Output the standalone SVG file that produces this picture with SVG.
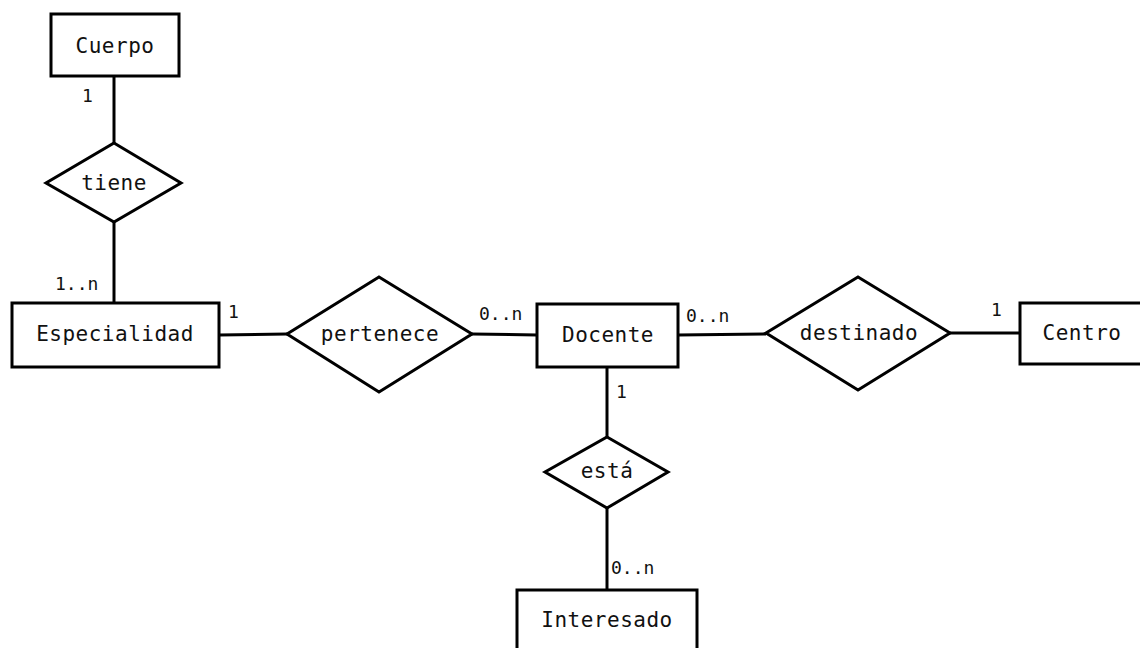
<svg xmlns="http://www.w3.org/2000/svg" width="1140" height="648" viewBox="0 0 1140 648">
<style>
.shape{fill:#fff;stroke:#000;stroke-width:3}
.edge{fill:none;stroke:#000;stroke-width:3}
.t{font-family:"DejaVu Sans Mono",monospace;font-size:21px;letter-spacing:0.5px;text-anchor:middle;fill:#111}
.c{font-family:"DejaVu Sans Mono",monospace;font-size:18px;fill:#111}
</style>
<rect width="1140" height="648" fill="#fff"/>
<g id="connectors">
<line class="edge" x1="114" y1="76" x2="114" y2="143"/>
<line class="edge" x1="114" y1="222" x2="114" y2="303"/>
<line class="edge" x1="219" y1="335" x2="287" y2="334"/>
<line class="edge" x1="472" y1="334" x2="537" y2="335"/>
<line class="edge" x1="678" y1="335" x2="766" y2="334"/>
<line class="edge" x1="950" y1="333" x2="1020" y2="333"/>
<line class="edge" x1="607" y1="367" x2="607" y2="437"/>
<line class="edge" x1="607" y1="508" x2="607" y2="590"/>
<text class="c" x="82" y="102">1</text>
<text class="c" x="55" y="290">1..n</text>
<text class="c" x="228" y="318">1</text>
<text class="c" x="479" y="320">0..n</text>
<text class="c" x="686" y="322">0..n</text>
<text class="c" x="991" y="316">1</text>
<text class="c" x="616" y="398">1</text>
<text class="c" x="611" y="574">0..n</text>
</g>
<g id="cuerpo"><rect class="shape" x="51" y="14" width="128" height="62"/><text class="t" x="115" y="53">Cuerpo</text></g>
<g id="tiene"><polygon class="shape" points="114,143 181,183 114,222 46,183"/><text class="t" x="114" y="190">tiene</text></g>
<g id="especialidad"><rect class="shape" x="12" y="303" width="207" height="64"/><text class="t" x="115" y="341">Especialidad</text></g>
<g id="pertenece"><polygon class="shape" points="379,277 472,334 379,392 287,334"/><text class="t" x="380" y="341">pertenece</text></g>
<g id="docente"><rect class="shape" x="537" y="304" width="141" height="63"/><text class="t" x="608" y="342">Docente</text></g>
<g id="destinado"><polygon class="shape" points="858,277 950,333 858,390 766,333"/><text class="t" x="859" y="340">destinado</text></g>
<g id="centro"><rect class="shape" x="1020" y="303" width="124" height="61"/><text class="t" x="1082" y="340">Centro</text></g>
<g id="esta"><polygon class="shape" points="607,437 668,472 607,508 545,472"/><text class="t" x="607" y="478">está</text></g>
<g id="interesado"><rect class="shape" x="517" y="590" width="180" height="64"/><text class="t" x="607" y="627">Interesado</text></g>
</svg>
